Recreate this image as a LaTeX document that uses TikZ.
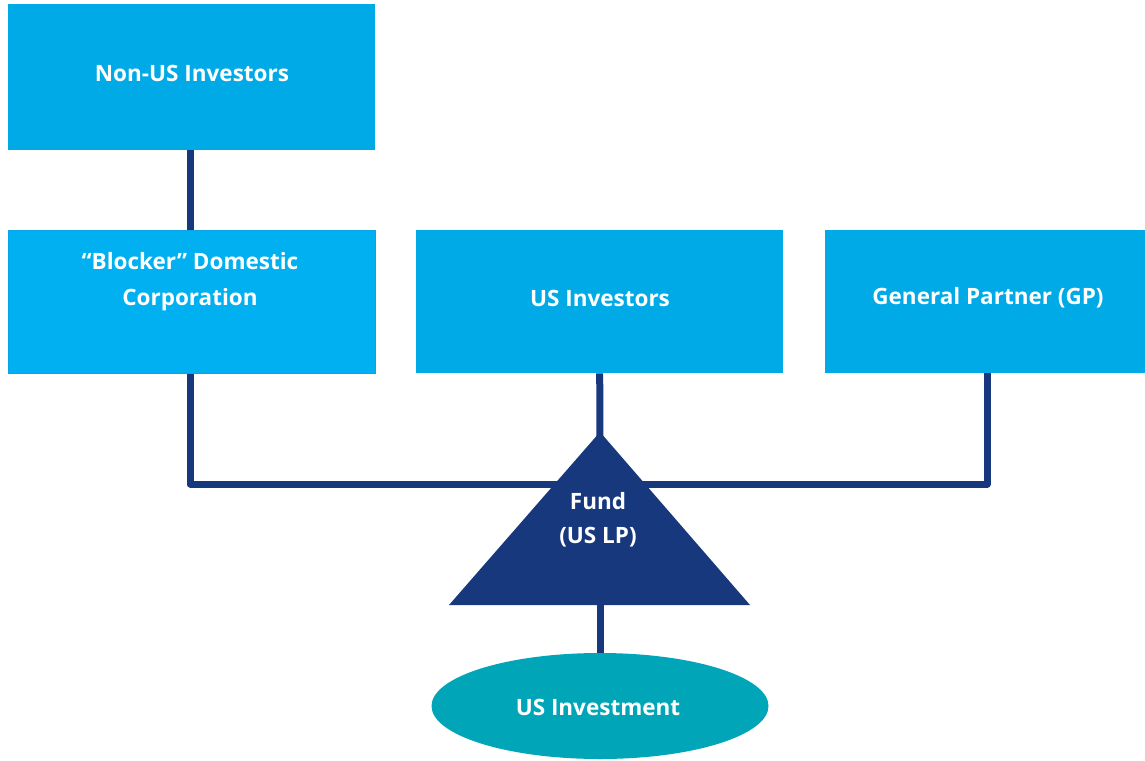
\documentclass[tikz,border=0pt]{standalone}
\usepackage{fontspec}
\setmainfont{Open Sans}
\usetikzlibrary{shapes.geometric}
\definecolor{boxblue}{HTML}{00AAE6}
\definecolor{blockblue}{HTML}{00B0F0}
\definecolor{blockedge}{HTML}{0AA2E8}
\definecolor{navy}{HTML}{17387D}
\definecolor{teal}{HTML}{00A6B8}
\begin{document}
\begin{tikzpicture}[x=1pt,y=-1pt,
  box/.style={fill=boxblue,draw=none,minimum width=367pt,minimum height=143pt,inner sep=0pt,anchor=north west},
  lbl/.style={text=white,font=\bfseries\fontsize{22.5}{36}\selectfont,align=center},
  conn/.style={draw=navy,line width=7pt,line join=round}]
\useasboundingbox (0,0) rectangle (1145,760);
\node[box,minimum height=146pt] (nonus) at (8,4) {};
\node[lbl] at (192,73) {Non-US Investors};
\node[box,fill=blockblue,draw=blockedge,line width=1.2pt] (blocker) at (8,230) {};
\node[lbl] at (190,282) {“Blocker” Domestic\\Corporation};
\node[box] (usinv) at (416,230) {};
\node[lbl] at (600,298) {US Investors};
\node[box,minimum width=320pt] (gp) at (825,230) {};
\node[lbl] at (988,298) {General Partner (GP)};
\coordinate (apex) at (600,432);
\coordinate (apexin) at (600,450);
\coordinate (bl) at (449,605);
\coordinate (br) at (750,605);
\coordinate (bm) at (600,600);
\node[ellipse,fill=teal,minimum width=337pt,minimum height=106pt,inner sep=0pt] (inv) at (600,706) {};
\node[lbl] at (598,707) {US Investment};
% connectors
\draw[conn] (nonus.south -| 190,0) -- (blocker.north -| 190,0);
\draw[conn] (blocker.south -| 190,0) -- (190,484) -- (987,484) -- (gp.south -| 987,0);
\draw[conn] (usinv.south) -- (apexin);
\draw[conn] (bm) -- (inv.north);
% triangle
\fill[navy] (apex) -- (br) -- (bl) -- cycle;
\node[lbl,font=\bfseries\fontsize{22.5}{34}\selectfont] (fund) at (598,520) {Fund\\(US LP)};
\end{tikzpicture}
\end{document}
